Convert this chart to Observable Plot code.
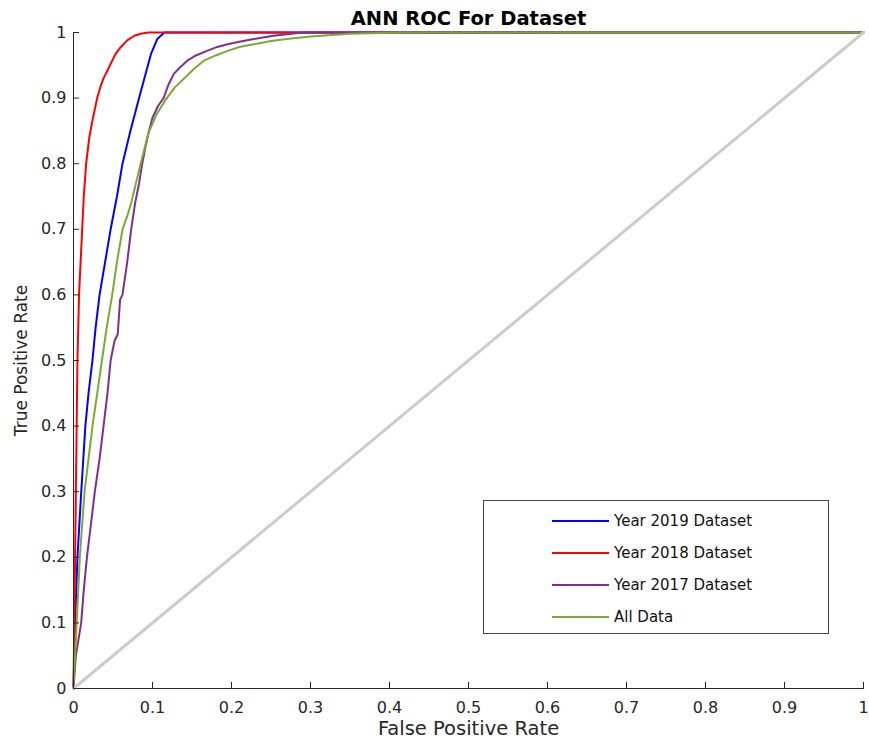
<!DOCTYPE html>
<html>
<head>
<meta charset="utf-8">
<script src="https://cdn.jsdelivr.net/npm/d3@7"></script>
<script src="https://cdn.jsdelivr.net/npm/@observablehq/plot@0.6"></script>
<style>
  html, body { margin: 0; padding: 0; background: #fff; }
  #wrap { position: relative; width: 869px; height: 743px; font-family: "DejaVu Sans", sans-serif; }
  #legend { position: absolute; left: 483px; top: 500px; width: 346px; height: 134px; border: 1px solid #444; background: #fff; box-sizing: border-box; }
  .item { position: absolute; left: 68px; height: 18px; display: flex; align-items: center; font-size: 15px; color: #111; }
  .item .sw { width: 57px; height: 2px; margin-right: 5px; }
</style>
</head>
<body>
<div id="wrap"></div>
<script>
const titleText = "ANN ROC For Dataset";
const xLabel = "False Positive Rate";
const yLabel = "True Positive Rate";
const ticks = [0, 0.1, 0.2, 0.3, 0.4, 0.5, 0.6, 0.7, 0.8, 0.9, 1];
const diagonal = [0, 1];

const seriesNames = ["Year 2019 Dataset", "Year 2018 Dataset", "Year 2017 Dataset", "All Data"];
const seriesColors = ["#0000ff", "#ff0000", "#7e2f8e", "#77ac30"];

const fpr2019 = [0,0.002,0.005,0.0098,0.015,0.019,0.024,0.028,0.033,0.040,0.047,0.055,0.062,0.072,0.083,0.092,0.098,0.106,0.115,0.3,1];
const tpr2019 = [0,0.1,0.2,0.3,0.4,0.45,0.5,0.55,0.6,0.65,0.7,0.75,0.8,0.85,0.9,0.94,0.967,0.99,1,1,1];

const fpr2018 = [0,0.001,0.002,0.003,0.004,0.005,0.007,0.009,0.011,0.013,0.016,0.020,0.024,0.030,0.034,0.038,0.043,0.053,0.060,0.068,0.077,0.085,0.095,0.2,0.5,1];
const tpr2018 = [0,0.1,0.2,0.3,0.4,0.5,0.6,0.65,0.7,0.75,0.8,0.84,0.866,0.9,0.917,0.93,0.942,0.967,0.978,0.988,0.995,0.998,1,1,1,1];

const fpr2017 = [0,0.003,0.0097,0.013,0.017,0.022,0.027,0.033,0.038,0.043,0.047,0.052,0.056,0.059,0.062,0.068,0.073,0.078,0.083,0.087,0.091,0.095,0.100,0.107,0.114,0.120,0.127,0.135,0.144,0.155,0.169,0.182,0.195,0.21,0.228,0.253,0.29,0.4,1];
const tpr2017 = [0,0.05,0.1,0.15,0.2,0.25,0.3,0.35,0.4,0.45,0.5,0.53,0.54,0.593,0.6,0.65,0.7,0.74,0.77,0.8,0.825,0.847,0.87,0.888,0.9,0.92,0.937,0.947,0.957,0.965,0.972,0.978,0.982,0.986,0.99,0.995,1,1,1];

const fprAll = [0,0.002,0.004,0.008,0.014,0.019,0.024,0.030,0.036,0.042,0.049,0.055,0.062,0.068,0.073,0.079,0.085,0.095,0.105,0.118,0.128,0.14,0.152,0.165,0.18,0.195,0.21,0.228,0.25,0.27,0.3,0.35,0.41,1];
const tprAll = [0,0.05,0.1,0.2,0.3,0.35,0.4,0.45,0.5,0.55,0.6,0.65,0.7,0.72,0.74,0.77,0.8,0.847,0.875,0.9,0.916,0.93,0.944,0.957,0.965,0.972,0.978,0.982,0.987,0.99,0.994,0.998,1,1];

const fprs = [fpr2019, fpr2018, fpr2017, fprAll];
const tprs = [tpr2019, tpr2018, tpr2017, tprAll];

const fmt = d => (d === 0 || d === 1) ? String(d) : d.toFixed(1);
const W = 869, H = 743, mL = 73, mR = 6, mT = 32, mB = 55;

const lineMarks = seriesNames.map((name, i) =>
  Plot.line(fprs[i].map((f, j) => ({x: f, y: tprs[i][j]})), {x: "x", y: "y", stroke: seriesColors[i], strokeWidth: 2})
);

const chart = Plot.plot({
  width: W, height: H,
  marginLeft: mL, marginRight: mR, marginTop: mT, marginBottom: mB,
  style: {fontFamily: "'DejaVu Sans', sans-serif", fontSize: "16px", color: "#262626", background: "#fff"},
  x: {domain: [0, 1]},
  y: {domain: [0, 1]},
  marks: [
    ...lineMarks,
    Plot.line(diagonal, {x: d => d, y: d => d, stroke: "#cccccc", strokeWidth: 3}),
    Plot.frame({anchor: "bottom", stroke: "#262626"}),
    Plot.frame({anchor: "left", stroke: "#262626"}),
    Plot.tickX(ticks, {x: d => d, stroke: "#262626", insetTop: H - mT - mB - 6}),
    Plot.tickY(ticks, {y: d => d, stroke: "#262626", insetRight: W - mL - mR - 6}),
    Plot.axisX(ticks, {tickSize: 0, tickPadding: 13, tickFormat: fmt, label: null, fill: "#262626", fontSize: 16}),
    Plot.axisY(ticks, {tickSize: 0, tickPadding: 7, tickFormat: fmt, label: null, fill: "#262626", fontSize: 16}),
    Plot.text([xLabel], {frameAnchor: "bottom", dy: 40, lineAnchor: "middle", textAnchor: "middle", fontSize: 19.5, fill: "#262626"}),
    Plot.text([yLabel], {frameAnchor: "left", dx: -52, rotate: -90, lineAnchor: "middle", textAnchor: "middle", fontSize: 17, fill: "#262626"}),
    Plot.text([titleText], {frameAnchor: "top", dy: -14, lineAnchor: "middle", textAnchor: "middle", fontSize: 19.5, fontWeight: "bold", fill: "#000"})
  ]
});

const wrap = document.getElementById("wrap");
wrap.appendChild(chart);

const legend = document.createElement("div");
legend.id = "legend";
seriesNames.forEach((name, i) => {
  const it = document.createElement("div");
  it.className = "item";
  it.style.top = (11 + i * 32) + "px";
  const sw = document.createElement("span");
  sw.className = "sw";
  sw.style.background = seriesColors[i];
  const tx = document.createElement("span");
  tx.textContent = name;
  it.appendChild(sw); it.appendChild(tx);
  legend.appendChild(it);
});
wrap.appendChild(legend);
</script>
</body>
</html>
